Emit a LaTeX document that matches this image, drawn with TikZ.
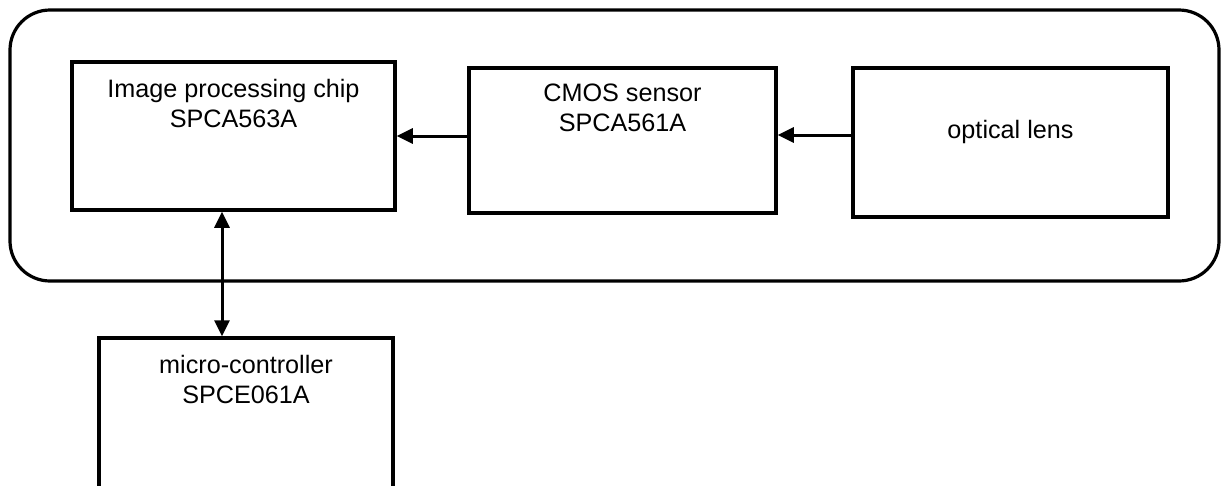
\documentclass[tikz,border=0pt]{standalone}
\usepackage{fontspec}
\setmainfont{Liberation Sans}
\usetikzlibrary{arrows.meta}
\tikzset{
  blk/.style={draw, line width=3.5pt, rectangle, inner sep=0pt},
  txt/.style={anchor=base, inner sep=0pt, font=\fontsize{25.2}{30}\selectfont},
  arr/.style={line width=3pt, -{Triangle[length=16pt,width=15pt]}},
  dblarr/.style={line width=3pt, {Triangle[length=16pt,width=15pt]}-{Triangle[length=16pt,width=15pt]}},
}
\begin{document}
\begin{tikzpicture}[x=1pt,y=-1pt]
\clip (0,0) rectangle (1221,485);
\fill[white] (0,0) rectangle (1221,485);
% outer rounded frame
\node[draw, line width=3.2pt, rounded corners=40pt, minimum width=1209pt, minimum height=271pt, inner sep=0pt] (frame) at (614.5,145.5) {};
% blocks
\node[blk, minimum width=323pt, minimum height=148pt] (img) at (233.5,136) {};
\node[blk, minimum width=307pt, minimum height=145pt] (cmos) at (622.5,140.5) {};
\node[blk, minimum width=315pt, minimum height=149pt] (lens) at (1010.5,142.5) {};
\node[blk, minimum width=294pt, minimum height=182pt] (mc) at (246,429) {};
% texts
\node[txt] (t1a) at (233.5,97) {Image processing chip};
\node[txt] (t1b) at (233.5,127) {SPCA563A};
\node[txt] (t2a) at (622.5,101) {CMOS sensor};
\node[txt] (t2b) at (622.5,131) {SPCA561A};
\node[txt] (t3) at (1010.5,138) {optical lens};
\node[txt] (t4a) at (246,373) {micro-controller};
\node[txt] (t4b) at (246,403) {SPCE061A};
% connectors
\coordinate (ya) at (0,136);
\coordinate (yb) at (0,135);
\coordinate (vx) at (222,0);
\draw[arr] (cmos.west |- ya) -- (img.east |- ya);
\draw[arr] (lens.west |- yb) -- (cmos.east |- yb);
\draw[dblarr] (vx |- img.south) -- (vx |- mc.north);
\end{tikzpicture}
\end{document}
